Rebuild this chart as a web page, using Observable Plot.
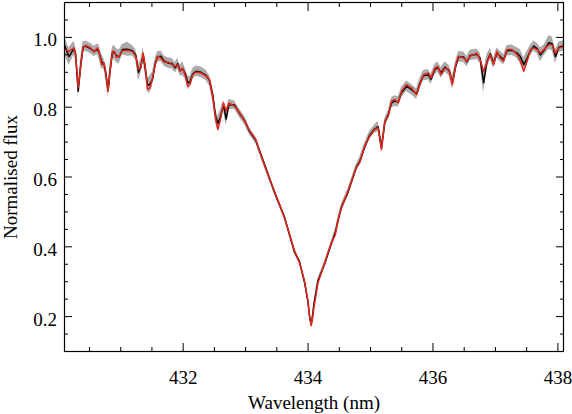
<!DOCTYPE html>
<html>
<head>
<meta charset="utf-8">
<script src="https://cdn.jsdelivr.net/npm/d3@7"></script>
<script src="https://cdn.jsdelivr.net/npm/@observablehq/plot@0.6"></script>
<style>
  html, body { margin: 0; padding: 0; background: white; }
</style>
</head>
<body>
<div id="chart"></div>
<script>
// Wavelength (nm)
const wavelength = [
  430.106, 430.171, 430.251, 430.277, 430.320, 430.357, 430.396, 430.438, 430.518, 430.573,
  430.626, 430.653, 430.695, 430.733, 430.759, 430.798, 430.830, 430.867, 430.894, 430.931,
  430.975, 431.028, 431.108, 431.188, 431.241, 431.285, 431.322, 431.360, 431.393, 431.430,
  431.467, 431.510, 431.553, 431.590, 431.643, 431.698, 431.767, 431.820, 431.875, 431.912,
  431.949, 431.992, 432.036, 432.073, 432.110, 432.153, 432.206, 432.287, 432.367, 432.422,
  432.475, 432.518, 432.555, 432.592, 432.647, 432.689, 432.732, 432.823, 432.904, 432.984,
  433.065, 433.161, 433.222, 433.299, 433.460, 433.621, 433.782, 433.862, 433.942, 433.997,
  434.026, 434.050, 434.071, 434.094, 434.158, 434.264, 434.372, 434.436, 434.479, 434.532,
  434.640, 434.774, 434.827, 434.907, 434.988, 435.068, 435.123, 435.176, 435.229, 435.284,
  435.336, 435.389, 435.444, 435.497, 435.578, 435.658, 435.738, 435.791, 435.846, 435.926,
  435.968, 436.032, 436.076, 436.129, 436.193, 436.258, 436.312, 436.365, 436.409, 436.489,
  436.542, 436.595, 436.703, 436.756, 436.811, 436.864, 436.917, 436.971, 437.024, 437.077,
  437.132, 437.185, 437.265, 437.346, 437.399, 437.454, 437.507, 437.560, 437.615, 437.668,
  437.721, 437.775, 437.856, 437.909, 437.962, 438.017, 438.097
];
// Model (synthetic) normalised flux - red
const modelFlux = [
  0.965, 0.960, 0.970, 0.951, 0.857, 0.912, 0.970, 0.977, 0.970, 0.958,
  0.970, 0.960, 0.922, 0.927, 0.903, 0.846, 0.903, 0.960, 0.960, 0.943,
  0.946, 0.962, 0.963, 0.960, 0.946, 0.908, 0.912, 0.955, 0.917, 0.851,
  0.855, 0.884, 0.922, 0.946, 0.941, 0.929, 0.929, 0.922, 0.917, 0.922,
  0.903, 0.912, 0.889, 0.860, 0.865, 0.893, 0.901, 0.898, 0.889, 0.879,
  0.827, 0.769, 0.736, 0.760, 0.812, 0.789, 0.812, 0.803, 0.784, 0.760,
  0.732, 0.708, 0.674, 0.636, 0.560, 0.484, 0.389, 0.355, 0.303, 0.246,
  0.200, 0.174, 0.194, 0.226, 0.296, 0.353, 0.411, 0.434, 0.477, 0.510,
  0.560, 0.627, 0.641, 0.689, 0.717, 0.736, 0.741, 0.679, 0.760, 0.774,
  0.817, 0.822, 0.812, 0.846, 0.865, 0.855, 0.836, 0.865, 0.893, 0.898,
  0.884, 0.912, 0.917, 0.893, 0.912, 0.908, 0.865, 0.922, 0.946, 0.941,
  0.932, 0.946, 0.955, 0.936, 0.903, 0.927, 0.951, 0.922, 0.960, 0.941,
  0.932, 0.965, 0.965, 0.951, 0.932, 0.903, 0.932, 0.965, 0.970, 0.965,
  0.955, 0.965, 0.979, 0.979, 0.955, 0.970, 0.974
];
// Observed normalised flux - black
const observedFlux = [
  0.975, 0.945, 0.968, 0.955, 0.846, 0.915, 0.972, 0.975, 0.968, 0.960,
  0.966, 0.958, 0.930, 0.924, 0.900, 0.848, 0.905, 0.955, 0.958, 0.948,
  0.944, 0.965, 0.966, 0.962, 0.950, 0.900, 0.915, 0.950, 0.912, 0.862,
  0.866, 0.880, 0.925, 0.944, 0.946, 0.932, 0.926, 0.925, 0.913, 0.925,
  0.905, 0.910, 0.895, 0.870, 0.872, 0.895, 0.903, 0.900, 0.891, 0.876,
  0.835, 0.775, 0.754, 0.770, 0.805, 0.766, 0.808, 0.806, 0.782, 0.762,
  0.730, 0.706, 0.676, 0.638, 0.558, 0.486, 0.386, 0.358, 0.300, 0.244,
  0.198, 0.178, 0.200, 0.236, 0.302, 0.350, 0.408, 0.440, 0.474, 0.512,
  0.556, 0.628, 0.644, 0.686, 0.720, 0.738, 0.744, 0.684, 0.756, 0.778,
  0.812, 0.818, 0.815, 0.842, 0.860, 0.850, 0.838, 0.868, 0.890, 0.893,
  0.880, 0.908, 0.915, 0.898, 0.915, 0.905, 0.870, 0.918, 0.944, 0.944,
  0.930, 0.948, 0.952, 0.940, 0.870, 0.930, 0.953, 0.925, 0.955, 0.945,
  0.936, 0.962, 0.963, 0.955, 0.945, 0.922, 0.940, 0.962, 0.975, 0.968,
  0.950, 0.962, 0.985, 0.982, 0.945, 0.972, 0.976
];
// Observational uncertainty - grey band
const fluxError = [
  0.025, 0.025, 0.020, 0.020, 0.020, 0.020, 0.015, 0.015, 0.015, 0.015,
  0.015, 0.020, 0.020, 0.015, 0.020, 0.020, 0.020, 0.015, 0.020, 0.020,
  0.020, 0.015, 0.020, 0.015, 0.015, 0.025, 0.020, 0.020, 0.020, 0.020,
  0.025, 0.020, 0.015, 0.015, 0.015, 0.015, 0.015, 0.015, 0.015, 0.015,
  0.015, 0.020, 0.015, 0.020, 0.015, 0.015, 0.015, 0.015, 0.015, 0.015,
  0.020, 0.020, 0.020, 0.020, 0.015, 0.020, 0.015, 0.012, 0.012, 0.012,
  0.010, 0.010, 0.010, 0.010, 0.008, 0.008, 0.007, 0.007, 0.006, 0.005,
  0.005, 0.005, 0.005, 0.006, 0.007, 0.008, 0.008, 0.012, 0.010, 0.010,
  0.010, 0.010, 0.012, 0.012, 0.012, 0.012, 0.015, 0.015, 0.012, 0.012,
  0.015, 0.015, 0.015, 0.015, 0.015, 0.015, 0.015, 0.015, 0.015, 0.015,
  0.015, 0.015, 0.015, 0.015, 0.015, 0.015, 0.020, 0.015, 0.015, 0.015,
  0.015, 0.015, 0.015, 0.015, 0.030, 0.020, 0.015, 0.015, 0.015, 0.015,
  0.015, 0.015, 0.015, 0.015, 0.020, 0.020, 0.020, 0.015, 0.015, 0.015,
  0.020, 0.015, 0.020, 0.020, 0.020, 0.015, 0.015
];
// Tick values
const xMajorTicks = [432, 434, 436, 438];
const xMinorTicks = [430.5, 431, 431.5, 432.5, 433, 433.5, 434.5, 435, 435.5, 436.5, 437, 437.5];
const yMajorTicks = [0.2, 0.4, 0.6, 0.8, 1.0];
const yMinorTicks = [0.15, 0.25, 0.3, 0.35, 0.45, 0.5, 0.55, 0.65, 0.7, 0.75, 0.85, 0.9, 0.95, 1.05];

const data = wavelength.map((w, i) => ({
  w, model: modelFlux[i], obs: observedFlux[i], err: fluxError[i]
}));

const blank = () => "";

const chart = Plot.plot({
  width: 572,
  height: 414,
  marginLeft: 64,
  marginRight: 9,
  marginTop: 2,
  marginBottom: 63,
  style: {fontFamily: '"Liberation Serif", "Times New Roman", serif', fontSize: "19px", background: "white", color: "black"},
  x: {domain: [430.1, 438.09]},
  y: {domain: [0.1, 1.1]},
  marks: [
    Plot.areaY(data, {x: "w", y1: d => d.obs - d.err, y2: d => d.obs + d.err, fill: "#ababab", clip: true}),
    Plot.lineY(data, {x: "w", y: "obs", stroke: "black", strokeWidth: 1.5, clip: true}),
    Plot.lineY(data, {x: "w", y: "model", stroke: "#e3261b", strokeWidth: 1.5, clip: true}),
    // bottom axis labels
    Plot.axisX({anchor: "bottom", ticks: xMajorTicks, tickSize: 0, tickPadding: 19, tickFormat: d => String(d),
      label: "Wavelength (nm)", labelAnchor: "center", labelOffset: 57, labelArrow: "none"}),
    // inward ticks bottom & top
    Plot.axisX({anchor: "bottom", ticks: xMajorTicks, tickSize: -8, tickFormat: blank, label: null}),
    Plot.axisX({anchor: "bottom", ticks: xMinorTicks, tickSize: -4, tickFormat: blank, label: null}),
    Plot.axisX({anchor: "top", ticks: xMajorTicks, tickSize: -8, tickFormat: blank, label: null}),
    Plot.axisX({anchor: "top", ticks: xMinorTicks, tickSize: -4, tickFormat: blank, label: null}),
    // left axis labels
    Plot.axisY({anchor: "left", ticks: yMajorTicks, tickSize: 0, tickPadding: 7.5, tickFormat: d3.format(".1f"), dy: 3,
      label: null}),
    Plot.axisY({anchor: "left", ticks: [], tickSize: 0, label: "Normalised flux", labelAnchor: "center", labelOffset: 61, labelArrow: "none"}),
    // inward ticks left & right
    Plot.axisY({anchor: "left", ticks: yMajorTicks, tickSize: -8, tickFormat: blank, label: null}),
    Plot.axisY({anchor: "left", ticks: yMinorTicks, tickSize: -4, tickFormat: blank, label: null}),
    Plot.axisY({anchor: "right", ticks: yMajorTicks, tickSize: -8, tickFormat: blank, label: null}),
    Plot.axisY({anchor: "right", ticks: yMinorTicks, tickSize: -4, tickFormat: blank, label: null}),
    Plot.frame({stroke: "black", strokeWidth: 1.2})
  ]
});
document.getElementById("chart").appendChild(chart);
</script>
</body>
</html>
